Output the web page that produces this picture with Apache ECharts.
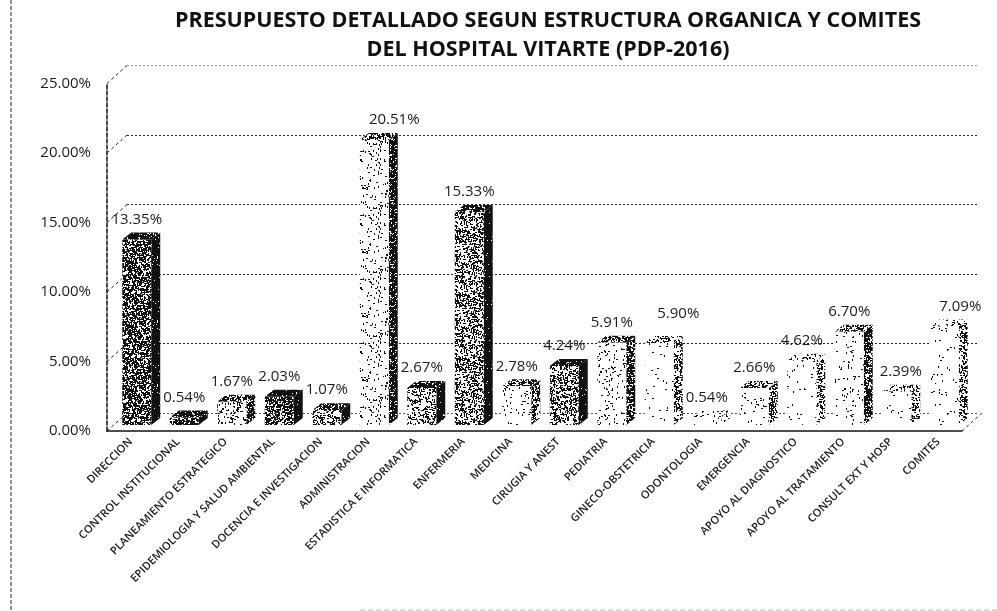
<!DOCTYPE html>
<html>
<head>
<meta charset="utf-8">
<title>Presupuesto detallado</title>
<style>
html, body { margin: 0; padding: 0; background: #fff; }
#chart { width: 997px; height: 611px; }
</style>
<script src="https://cdn.jsdelivr.net/npm/echarts@6/dist/echarts.min.js"></script>
</head>
<body>
<div id="chart"></div>
<script>
const titleText = 'PRESUPUESTO DETALLADO SEGUN ESTRUCTURA ORGANICA Y COMITES\nDEL HOSPITAL VITARTE (PDP-2016)'
const categories = [
    'DIRECCION', 'CONTROL INSTITUCIONAL', 'PLANEAMIENTO ESTRATEGICO',
    'EPIDEMIOLOGIA Y SALUD AMBIENTAL', 'DOCENCIA E INVESTIGACION', 'ADMINISTRACION',
    'ESTADISTICA E INFORMATICA', 'ENFERMERIA', 'MEDICINA', 'CIRUGIA Y ANEST',
    'PEDIATRIA', 'GINECO-OBSTETRICIA', 'ODONTOLOGIA', 'EMERGENCIA',
    'APOYO AL DIAGNOSTICO', 'APOYO AL TRATAMIENTO', 'CONSULT EXT Y HOSP', 'COMITES'
]
const budgetShare = [13.35, 0.54, 1.67, 2.03, 1.07, 20.51, 2.67, 15.33, 2.78, 4.24, 5.91, 5.90, 0.54, 2.66, 4.62, 6.70, 2.39, 7.09]
const yTicks = [0, 5, 10, 15, 20, 25]

// how dark the photocopy stipple is on each bar (front / side / top face)
const frontInk = [0.66, 0.72, 0.22, 0.66, 0.4, 0.1, 0.32, 0.46, 0.07, 0.46, 0.08, 0.025, 0.03, 0.06, 0.025, 0.06, 0.025, 0.035]
const sideInk = [0.97, 0.96, 0.8, 0.96, 0.94, 0.85, 0.96, 0.98, 0.55, 0.98, 0.75, 0.45, 0.25, 0.6, 0.4, 0.75, 0.4, 0.45]
const topInk = [0.9, 0.85, 0.7, 0.95, 0.7, 0.6, 0.8, 0.7, 0.55, 0.92, 0.6, 0.35, 0.2, 0.5, 0.25, 0.55, 0.3, 0.12]
// labels that sit away from their bar in the original
const labelDx = { 5: 20, 11: 19, 16: 4, 17: 16 }
const labelDy = { 11: 9 }

const textFont = '"Open Sans", sans-serif'
const ink = '#1c1c1c'

// stipple tile, a fixed pseudo sequence so each run looks the same
function stipple(coverage, seed) {
    const size = 64
    const c = document.createElement('canvas')
    c.width = c.height = size
    const ctx = c.getContext('2d')
    ctx.fillStyle = '#fff'
    ctx.fillRect(0, 0, size, size)
    ctx.fillStyle = '#111'
    let s = seed * 7919 + 13
    const next = () => {
        s = (s * 1103515245 + 12345) % 2147483648
        return s / 2147483648
    }
    const count = Math.round(-Math.log(1 - coverage) * size * size / 2)
    for (let i = 0; i < count; i++) {
        const x = Math.floor(next() * size)
        const y = Math.floor(next() * size)
        if (next() > 0.5) ctx.fillRect(x, y, 2, 1)
        else ctx.fillRect(x, y, 1, 2)
    }
    return { image: c, repeat: 'repeat' }
}

const frontFill = frontInk.map((d, i) => stipple(d, i + 1))
const sideFill = sideInk.map((d, i) => stipple(d, i + 31))
const topFill = topInk.map((d, i) => stipple(d, i + 61))

const barShift = 6      // bar sits in the middle of the floor
const depthX = 9, depthY = 7
const wallX = 20, wallY = 18

function renderBar(params, api) {
    const i = api.value(0)
    const top = api.coord([i, api.value(1)])
    const base = api.coord([i, 0])
    const w = api.size([1, 0])[0] * 0.61
    const x0 = top[0] + barShift - w / 2
    const x1 = x0 + w
    const yT = top[1] - barShift
    const yB = base[1] - barShift
    const dx = labelDx[i] || 0
    const dy = labelDy[i] || 0
    return {
        type: 'group',
        children: [
            {
                type: 'polygon',
                shape: { points: [[x1, yT], [x1 + depthX, yT - depthY], [x1 + depthX, yB - depthY], [x1, yB]] },
                style: { fill: sideFill[i] }
            },
            {
                type: 'polygon',
                shape: { points: [[x0, yT], [x0 + depthX, yT - depthY], [x1 + depthX, yT - depthY], [x1, yT]] },
                style: { fill: topFill[i] }
            },
            {
                type: 'rect',
                shape: { x: x0, y: yT, width: w, height: yB - yT },
                style: { fill: frontFill[i] }
            },
            {
                type: 'text',
                x: x0 + w / 2 + dx,
                y: yT - depthY - 13 - dy,
                style: {
                    text: api.value(1).toFixed(2) + '%',
                    font: '15px ' + textFont,
                    fill: ink,
                    align: 'center',
                    verticalAlign: 'middle'
                }
            }
        ]
    }
}

// dotted lines joining the front axis with the back wall, and the far end of the floor
function renderWallEdge(params, api) {
    const v = api.value(0)
    const p = api.coord([0, v])
    const left = params.coordSys.x
    const edge = { stroke: '#222', lineWidth: 1, lineDash: [3, 3] }
    const children = [{
        type: 'line',
        shape: { x1: left, y1: p[1], x2: left + wallX, y2: p[1] - wallY },
        style: edge
    }]
    if (v === 0) {
        const right = left + params.coordSys.width
        children.push({
            type: 'line',
            shape: { x1: right, y1: p[1], x2: right + wallX, y2: p[1] - wallY },
            style: edge
        })
    }
    return { type: 'group', children: children }
}

const option = {
    animation: false,
    backgroundColor: '#fff',
    title: {
        text: titleText,
        left: 543,
        top: 1,
        textAlign: 'center',
        textStyle: {
            fontFamily: textFont,
            fontWeight: 'bold',
            fontSize: 21.5,
            lineHeight: 29,
            color: '#111'
        }
    },
    grid: [
        { left: 107, top: 83.5, width: 855, height: 347.5 },
        { left: 127, top: 65.5, width: 851, height: 347.5 }
    ],
    xAxis: [
        {
            type: 'category',
            gridIndex: 0,
            data: categories,
            axisTick: { show: false },
            axisLine: { lineStyle: { color: '#111', width: 1.5, type: [3, 1] } },
            axisLabel: {
                interval: 0,
                rotate: 45,
                margin: 9,
                fontFamily: textFont,
                fontSize: 11,
                fontWeight: 600,
                color: ink
            }
        },
        { type: 'category', gridIndex: 1, data: categories, show: false }
    ],
    yAxis: [
        {
            type: 'value',
            gridIndex: 0,
            min: 0,
            max: 25,
            interval: 5,
            splitLine: { show: false },
            axisTick: { show: false },
            axisLine: { show: true, lineStyle: { color: '#111', width: 1.5, type: [4, 2] } },
            axisLabel: {
                margin: 16,
                formatter: v => v.toFixed(2) + '%',
                fontFamily: textFont,
                fontSize: 15,
                color: ink
            }
        },
        {
            type: 'value',
            gridIndex: 1,
            min: 0,
            max: 25,
            interval: 5,
            axisLine: { show: false },
            axisTick: { show: false },
            axisLabel: { show: false },
            splitLine: {
                lineStyle: {
                    color: ['#555', '#222', '#222', '#222', '#333', '#999'],
                    width: 1,
                    type: [2, 2]
                }
            }
        }
    ],
    series: [
        {
            type: 'custom',
            xAxisIndex: 0,
            yAxisIndex: 0,
            data: yTicks.map(v => [v]),
            encode: { y: 0 },
            renderItem: renderWallEdge,
            silent: true,
            z: 2
        },
        {
            type: 'custom',
            xAxisIndex: 0,
            yAxisIndex: 0,
            data: budgetShare.map((v, i) => [i, v]),
            encode: { x: 0, y: 1 },
            renderItem: renderBar,
            silent: true,
            z: 3
        }
    ],
    // photocopy edges of the sheet
    graphic: [
        { type: 'line', silent: true, shape: { x1: 11, y1: 0, x2: 11, y2: 611 }, style: { stroke: '#222', lineWidth: 1, lineDash: [4, 2] } },
        { type: 'line', silent: true, shape: { x1: 360, y1: 610, x2: 997, y2: 610 }, style: { stroke: '#bbb', lineWidth: 1, lineDash: [5, 3] } }
    ]
}

const chart = echarts.init(document.getElementById('chart'), null, { renderer: 'canvas' })
chart.setOption(option)
</script>
</body>
</html>
